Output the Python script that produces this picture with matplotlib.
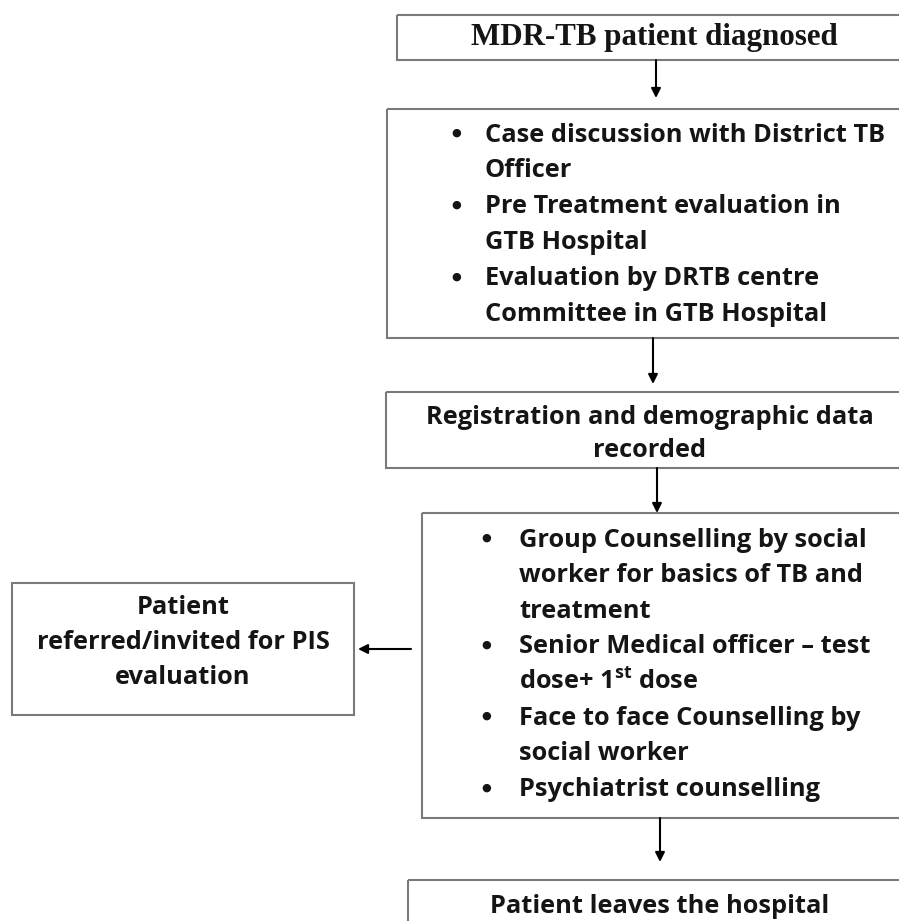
import matplotlib.pyplot as plt
from matplotlib.patches import Rectangle

# flowchart content
top_label = "MDR-TB patient diagnosed"
evaluation_items = [
    "Case discussion with District TB\nOfficer",
    "Pre Treatment evaluation in\nGTB Hospital",
    "Evaluation by DRTB centre\nCommittee in GTB Hospital",
]
registration_label = "Registration and demographic data\nrecorded"
counselling_items = [
    "Group Counselling by social\nworker for basics of TB and\ntreatment",
    "Senior Medical officer \u2013 test\ndose+ 1$^{\\mathbf{st}}$ dose",
    "Face to face Counselling by\nsocial worker",
    "Psychiatrist counselling",
]
side_label = "Patient\nreferred/invited for PIS\nevaluation"
bottom_label = "Patient leaves the hospital"

plt.rcParams["mathtext.fontset"] = "custom"
plt.rcParams["mathtext.rm"] = "Open Sans"
plt.rcParams["mathtext.bf"] = "Open Sans:bold"

W, H = 899, 921
fig = plt.figure(figsize=(W / 100, H / 100), dpi=100)
ax = fig.add_axes([0, 0, 1, 1])
ax.set_xlim(0, W)
ax.set_ylim(H, 0)
ax.axis("off")

sans = "Open Sans"
fs = 18.3
edge = "#7a7a7a"
ink = "#151515"


def box(x0, y0, x1, y1):
    ax.add_patch(Rectangle((x0, y0), x1 - x0, y1 - y0, fill=False,
                           edgecolor=edge, linewidth=1.5))


def arrow(x, y0, y1=None, x1=None):
    end = (x, y1) if x1 is None else (x1, y0)
    ax.annotate("", xy=end, xytext=(x, y0),
                arrowprops=dict(arrowstyle="-|>", color="black", lw=1.5,
                                mutation_scale=14, shrinkA=0, shrinkB=0))


def bullets(items, x_bul, x_txt, y_first, step):
    y = y_first
    for item in items:
        ax.text(x_bul, y - 2, "\u25cf", fontsize=8, ha="center", va="center",
                family="DejaVu Sans", color=ink)
        for ln in item.split("\n"):
            ax.text(x_txt, y, ln, fontsize=fs, fontweight="bold", family=sans,
                    ha="left", va="center", color=ink)
            y += step


# top box
box(397, 15, 960, 60)
ax.text(654, 37, top_label, fontsize=22.3, fontweight="bold",
        family="Liberation Serif", ha="center", va="center", color=ink)
arrow(656, 60, 98)

# evaluation box
box(387, 109, 960, 338)
bullets(evaluation_items, 456, 485, 135, 35.8)
arrow(653, 338, 384)

# registration box
box(386, 392, 960, 468)
for i, ln in enumerate(registration_label.split("\n")):
    ax.text(650, 417 + i * 33, ln, fontsize=fs, fontweight="bold", family=sans,
            ha="center", va="center", color=ink)
arrow(657, 468, 513)

# counselling box
box(422, 513, 960, 818)
bullets(counselling_items, 486, 519, 540, 35.6)
arrow(660, 818, 862)

# side box
box(12, 583, 354, 715)
for i, ln in enumerate(side_label.split("\n")):
    ax.text(183, 607 + i * 35, ln, fontsize=fs, fontweight="bold", family=sans,
            ha="center", va="center", color=ink)
arrow(411, 649, x1=358)

# bottom box
box(408, 880, 960, 960)
ax.text(660, 906, bottom_label, fontsize=fs, fontweight="bold", family=sans,
        ha="center", va="center", color=ink)

fig.savefig("out.png", dpi=100)
